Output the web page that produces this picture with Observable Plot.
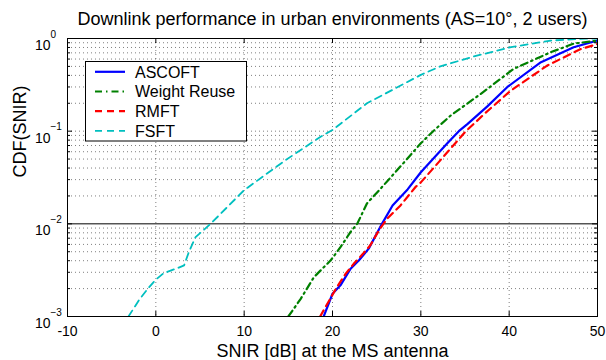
<!DOCTYPE html>
<html><head><meta charset="utf-8">
<script src="https://cdn.jsdelivr.net/npm/d3@7"></script>
<script src="https://cdn.jsdelivr.net/npm/@observablehq/plot@0.6"></script>
<style>body{margin:0;background:#fff} svg{display:block}</style>
</head><body><div id="chart"></div>
<script>
const title = "Downlink performance in urban environments (AS=10°, 2 users)";
const xLabel = "SNIR [dB] at the MS antenna";
const yLabel = "CDF(SNIR)";
const seriesNames = ["ASCOFT", "Weight Reuse", "RMFT", "FSFT"];
const xTicks = [-10, 0, 10, 20, 30, 40, 50];
const yTicks = [1e-3, 1e-2, 1e-1, 1];
const yTickExp = ["−3", "−2", "−1", "0"];
const yMinor = [2,3,4,5,6,7,8,9].flatMap(m => [1e-3, 1e-2, 1e-1].map(d => m * d));

const ascoftX = [19.0, 20.0, 20.9, 22.05, 23.0, 24.1, 25.6, 26.8, 28.5, 30.0, 33.0, 34.3, 35.3, 37.5, 39.8, 43.6, 47.3, 50];
const ascoftY = [1e-3, 1.76e-3, 2.17e-3, 3.28e-3, 4.04e-3, 5.4e-3, 1e-2, 1.58e-2, 2.35e-2, 3.6e-2, 7.4e-2, 0.1, 0.12, 0.184, 0.30, 0.555, 0.805, 0.95];
const reuseX = [15.0, 16.4, 17.9, 19.8, 20.9, 22.05, 22.8, 23.9, 25.45, 28.1, 30.0, 31.4, 33.4, 35.3, 36.8, 40.5, 44.7, 47.3, 50];
const reuseY = [1e-3, 1.55e-3, 2.66e-3, 4.04e-3, 5.6e-3, 8.2e-3, 1e-2, 1.66e-2, 2.4e-2, 4.6e-2, 7.4e-2, 0.1, 0.148, 0.2, 0.253, 0.47, 0.71, 0.88, 0.95];
const rmftX = [18.6, 20.5, 21.5, 22.4, 23.5, 24.3, 25.25, 26.2, 27.7, 29.4, 30.0, 33.9, 35.1, 36.0, 37.3, 40.2, 44.3, 48.1, 50];
const rmftY = [1e-3, 2.08e-3, 2.9e-3, 3.7e-3, 4.8e-3, 5.9e-3, 8.5e-3, 1.14e-2, 1.58e-2, 2.5e-2, 2.8e-2, 7.4e-2, 0.1, 0.12, 0.157, 0.275, 0.51, 0.77, 0.87];
const fsftX = [-3.1, -1.85, -0.9, 0, 0.9, 2.6, 3.2, 3.74, 4.5, 6.2, 8.1, 10, 14.7, 18.65, 20, 23.9, 30, 32.2, 36, 40.2, 44.7, 48.8, 50];
const fsftY = [1e-3, 1.53e-3, 2.0e-3, 2.5e-3, 2.94e-3, 3.37e-3, 3.56e-3, 4.97e-3, 7.2e-3, 1e-2, 1.52e-2, 2.31e-2, 4.88e-2, 8.7e-2, 0.103, 0.2, 0.405, 0.5, 0.64, 0.806, 0.95, 1.0, 1.0];

const styles = {
  "ASCOFT": {stroke: "#0000ff", strokeWidth: 2.2, dash: null},
  "Weight Reuse": {stroke: "#008000", strokeWidth: 2.2, dash: "7,4,1.5,4"},
  "RMFT": {stroke: "#ff0000", strokeWidth: 2.2, dash: "7,5"},
  "FSFT": {stroke: "#00bfbf", strokeWidth: 1.8, dash: "7,5"}
};
const xs = [ascoftX, reuseX, rmftX, fsftX];
const ys = [ascoftY, reuseY, rmftY, fsftY];
const rows = seriesNames.flatMap((s, k) => xs[k].map((x, i) => ({series: s, x, y: ys[k][i]})));

const W = 606, H = 360, mL = 67, mR = 9, mT = 38, mB = 44;
const pw = W - mL - mR, ph = H - mT - mB;
const font = "'Liberation Sans', Arial, Helvetica, sans-serif";
const grid = {stroke: "#000", strokeOpacity: 0.5, strokeWidth: 1, strokeDasharray: "1,3"};

const lineMarks = seriesNames.map(s => Plot.line(rows.filter(d => d.series === s), {
  x: "x", y: "y", stroke: styles[s].stroke, strokeWidth: styles[s].strokeWidth,
  strokeDasharray: styles[s].dash, clip: true
}));

const chart = Plot.plot({
  width: W, height: H, marginLeft: mL, marginRight: mR, marginTop: mT, marginBottom: mB,
  style: {fontFamily: font, background: "#fff"},
  x: {domain: [-10, 50], axis: null},
  y: {type: "log", domain: [1e-3, 1], axis: null},
  marks: [
    Plot.ruleX(xTicks.slice(1, -1), grid),
    Plot.ruleY(yMinor.concat([1e-1]), grid),
    Plot.ruleY([1e-2], {stroke: "#000", strokeWidth: 1}),
    ...lineMarks,
    Plot.frame({stroke: "#000", strokeWidth: 1}),
    Plot.ruleX(xTicks, {insetTop: ph - 5, stroke: "#000"}),
    Plot.ruleX(xTicks, {insetBottom: ph - 5, stroke: "#000"}),
    Plot.ruleY(yTicks, {insetRight: pw - 5, stroke: "#000"}),
    Plot.ruleY(yTicks, {insetLeft: pw - 5, stroke: "#000"}),
    Plot.ruleY(yMinor, {insetRight: pw - 3, stroke: "#000"}),
    Plot.ruleY(yMinor, {insetLeft: pw - 3, stroke: "#000"}),
    Plot.text(xTicks, {x: d => d, text: d => String(d), frameAnchor: "bottom", lineAnchor: "top", dy: 10, fontSize: 14}),
    Plot.text(yTicks, {y: d => d, text: () => "10", frameAnchor: "left", textAnchor: "end", dx: -17, dy: 7, fontSize: 14}),
    Plot.text(yTicks, {y: d => d, text: (d, i) => yTickExp[i], frameAnchor: "left", textAnchor: "start", dx: -17, dy: -4, fontSize: 10}),
    Plot.text([title], {frameAnchor: "top", lineAnchor: "bottom", dy: -14, fontSize: 18}),
    Plot.text([xLabel], {frameAnchor: "bottom", lineAnchor: "bottom", dy: 40, fontSize: 18}),
    Plot.text([yLabel], {frameAnchor: "left", rotate: -90, lineAnchor: "bottom", dx: -42, fontSize: 18})
  ]
});

// legend
const svg = d3.select(chart);
const lg = svg.append("g").attr("font-family", font).attr("font-size", 16).attr("text-anchor", "start");
lg.append("rect").attr("x", 85.5).attr("y", 61.5).attr("width", 161).attr("height", 79.5)
  .attr("fill", "#fff").attr("stroke", "#000").attr("stroke-width", 1);
seriesNames.forEach((s, i) => {
  const y = 71.8 + i * 19.7;
  lg.append("line").attr("x1", 95).attr("x2", 125).attr("y1", y).attr("y2", y)
    .attr("stroke", styles[s].stroke).attr("stroke-width", styles[s].strokeWidth)
    .attr("stroke-dasharray", styles[s].dash);
  lg.append("text").attr("x", 135).attr("y", y + 5.8).attr("text-anchor", "start").attr("fill", "#000").text(s);
});

document.getElementById("chart").appendChild(chart);
</script>
</body></html>
